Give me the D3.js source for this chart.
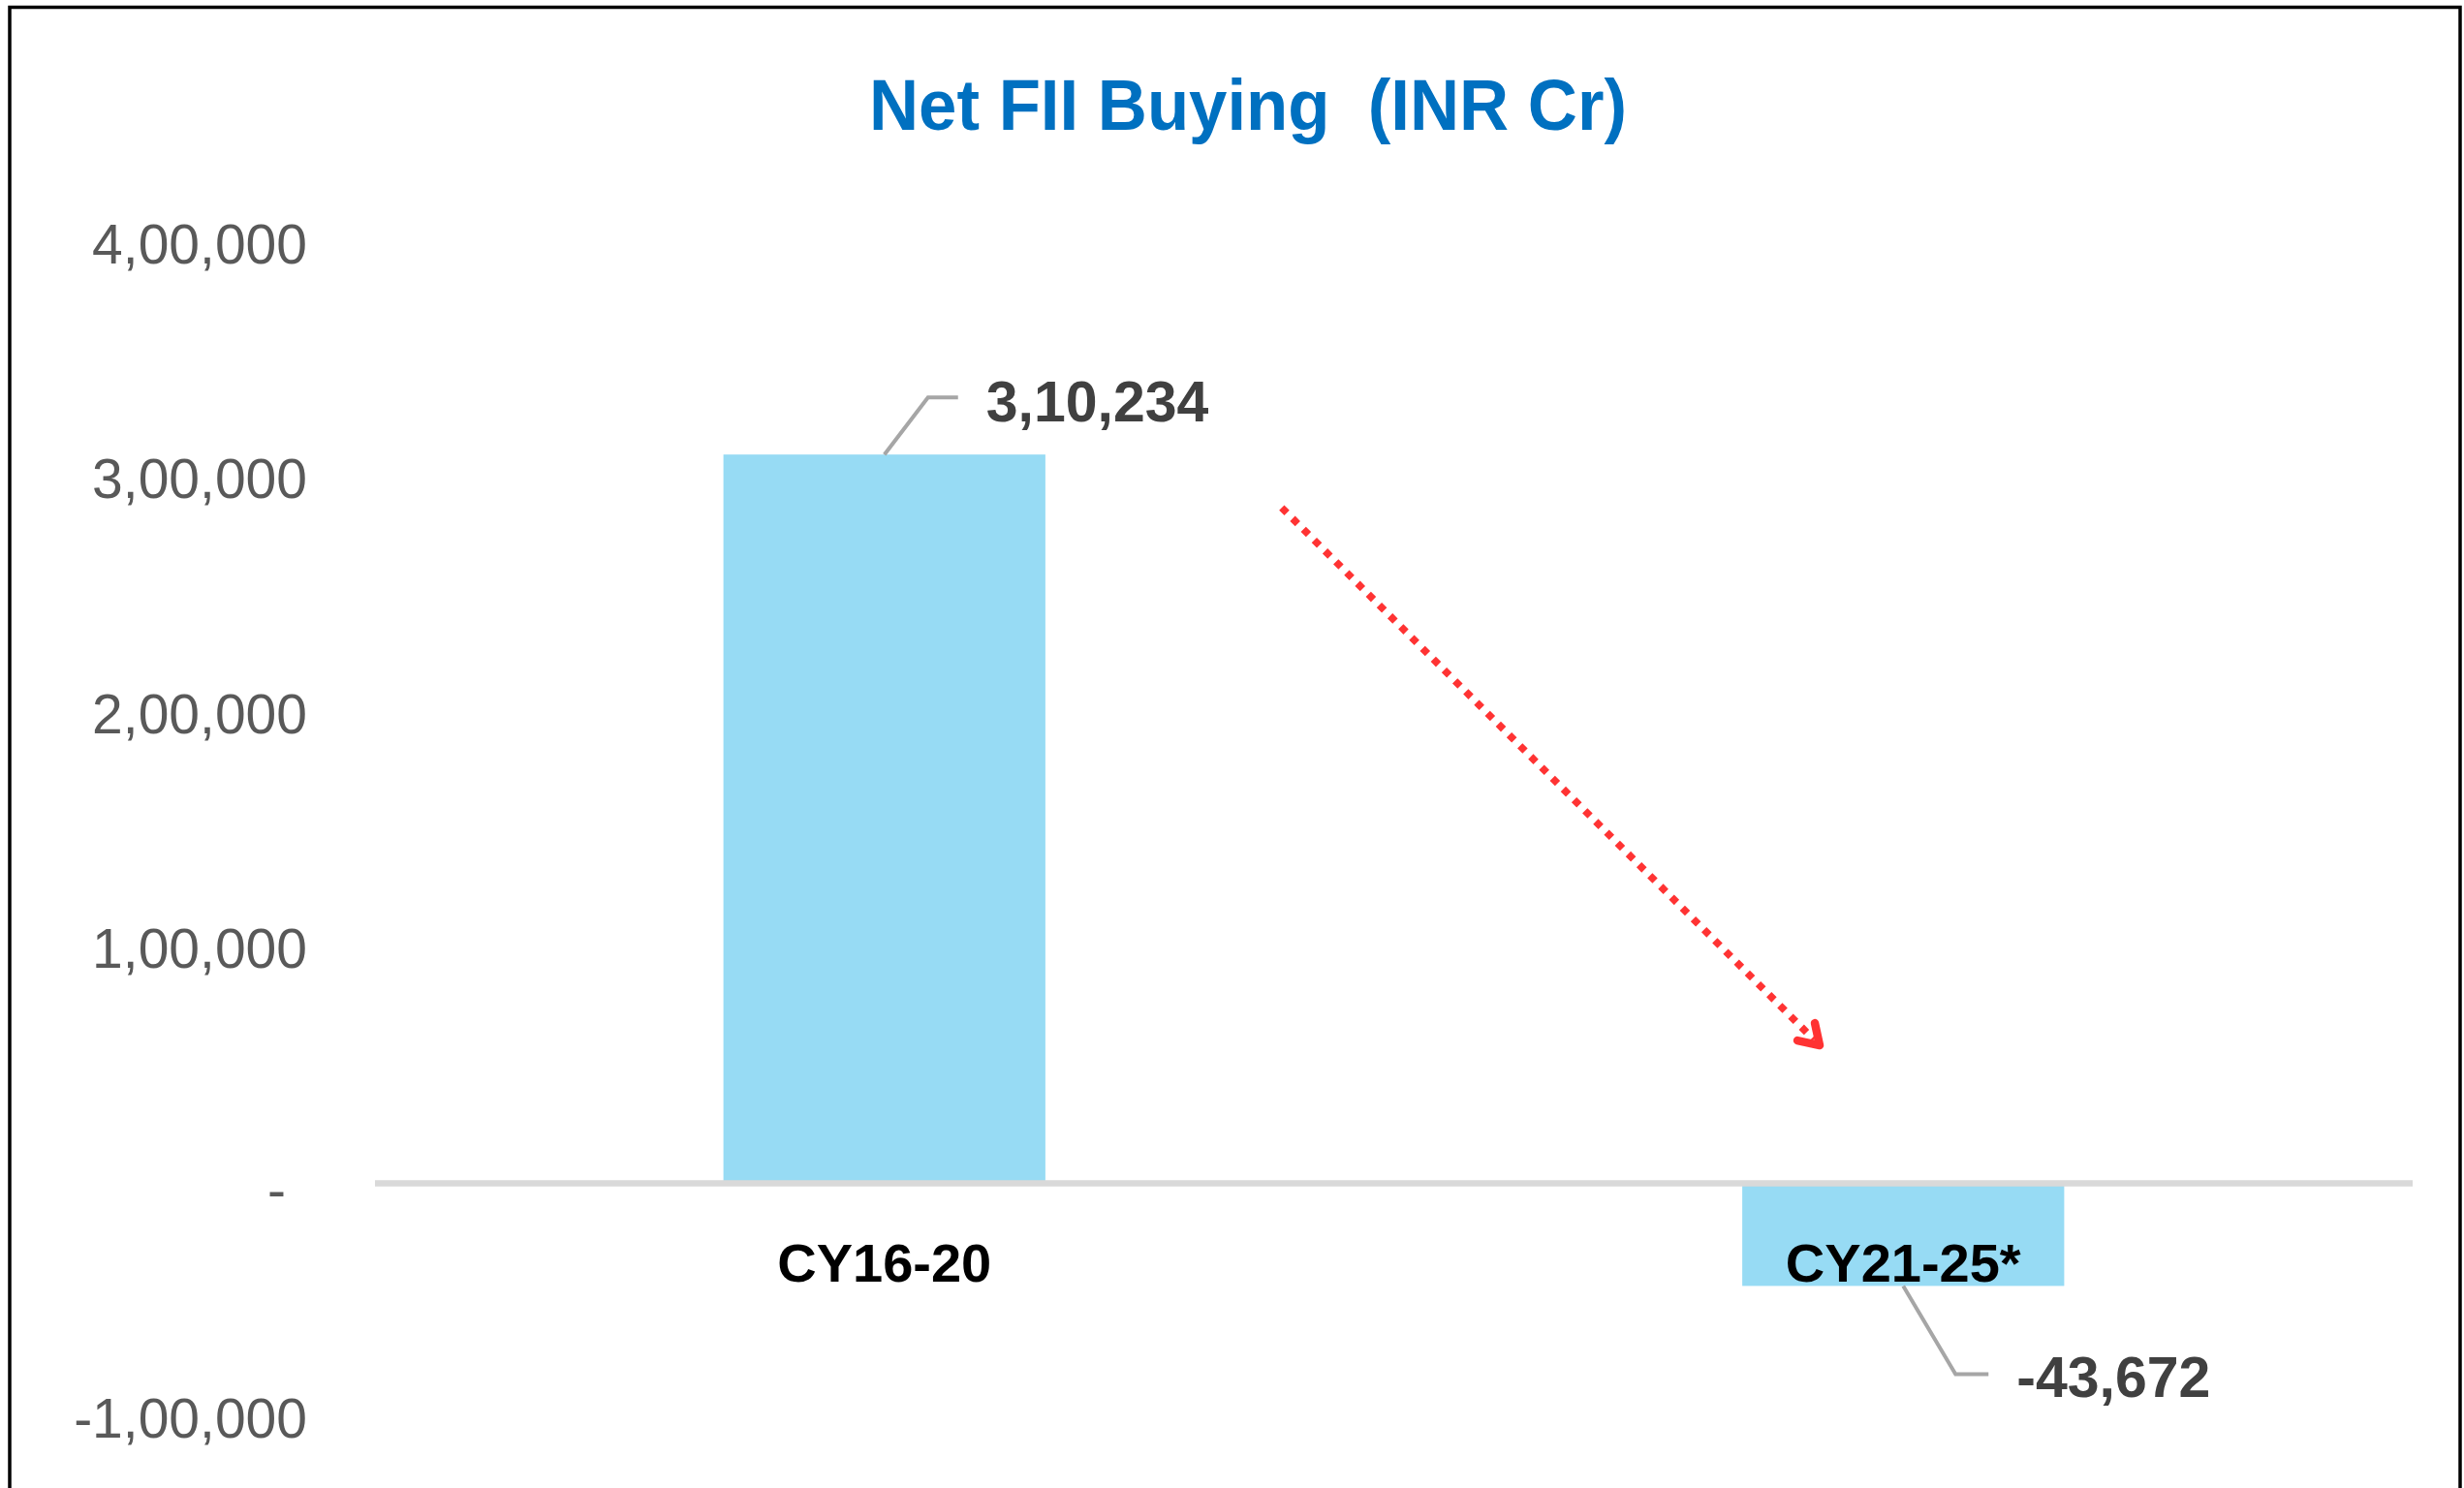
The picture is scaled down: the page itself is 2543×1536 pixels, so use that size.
<!DOCTYPE html>
<html>
<head>
<meta charset="utf-8">
<script src="https://cdn.jsdelivr.net/npm/d3@7"></script>
<style>
  body { margin: 0; background: #fff; }
  text { font-family: "Liberation Sans", Arial, sans-serif; }
</style>
</head>
<body>
<div id="chart"></div>
<script>
// data
var categories = ["CY16-20", "CY21-25*"];
var values = [310234, -43672];
var tickValues = [-100000, 0, 100000, 200000, 300000, 400000];
var tickLabels = ["-1,00,000", "-", "1,00,000", "2,00,000", "3,00,000", "4,00,000"];
var title = "Net FII Buying  (INR Cr)";

// indian digit grouping, 3,10,234
function inr(v) {
  var neg = v < 0;
  var s = Math.abs(Math.round(v)).toString();
  var last3 = s.slice(-3), rest = s.slice(0, -3);
  if (rest) s = rest.replace(/\B(?=(\d{2})+(?!\d))/g, ",") + "," + last3;
  return (neg ? "-" : "") + s;
}

var W = 2543, H = 1536;
var plot = { left: 387, right: 2490, top: 251.5, bottom: 1464 };

var svg = d3.select("#chart").append("svg")
  .attr("width", W)
  .attr("height", H);

svg.append("rect").attr("width", W).attr("height", H).attr("fill", "#fff");

// outer frame
svg.append("rect")
  .attr("x", 10).attr("y", 7.5)
  .attr("width", 2529).attr("height", 1580)
  .attr("fill", "none")
  .attr("stroke", "#000")
  .attr("stroke-width", 3.5);

svg.append("text")
  .attr("x", 1288).attr("y", 134)
  .attr("text-anchor", "middle")
  .attr("font-size", 74)
  .attr("font-weight", "bold")
  .attr("fill", "#0070c0")
  .attr("textLength", 782)
  .attr("lengthAdjust", "spacingAndGlyphs")
  .style("white-space", "pre")
  .text(title);

var x = d3.scaleBand()
  .domain(categories)
  .range([plot.left, plot.right])
  .paddingInner(0.684)
  .paddingOuter(0.342);

var y = d3.scaleLinear()
  .domain([-100000, 400000])
  .range([plot.bottom, plot.top]);

// y axis
var yAxis = svg.append("g")
  .attr("transform", "translate(317,0)")
  .call(d3.axisLeft(y)
    .tickValues(tickValues)
    .tickSize(0)
    .tickPadding(0)
    .tickFormat((d, i) => tickLabels[i]));
yAxis.select(".domain").remove();
yAxis.selectAll("text")
  .attr("font-size", 57)
  .attr("font-family", "'Liberation Sans', Arial, sans-serif")
  .attr("fill", "#595959")
  .attr("dy", d => d === 0 ? "0.45em" : "0.35em")
  .attr("dx", d => d === 0 ? -22 : 0);

// bars
svg.append("g")
  .selectAll("rect")
  .data(values)
  .enter().append("rect")
  .attr("x", (d, i) => x(categories[i]))
  .attr("width", x.bandwidth())
  .attr("y", d => y(Math.max(0, d)))
  .attr("height", d => Math.abs(y(d) - y(0)))
  .attr("fill", "#97dbf4");

// zero line
svg.append("line")
  .attr("x1", plot.left).attr("x2", plot.right)
  .attr("y1", y(0)).attr("y2", y(0))
  .attr("stroke", "#d9d9d9")
  .attr("stroke-width", 6.5);

// category labels
svg.append("g")
  .selectAll("text")
  .data(categories)
  .enter().append("text")
  .attr("x", d => x(d) + x.bandwidth() / 2)
  .attr("y", y(0) + 101.5)
  .attr("text-anchor", "middle")
  .attr("font-size", 56)
  .attr("font-weight", "bold")
  .attr("fill", "#000")
  .text(d => d);

// data labels with leader lines
var lab = svg.append("g")
  .selectAll("g")
  .data(values)
  .enter().append("g");

lab.append("path")
  .attr("fill", "none")
  .attr("stroke", "#a6a6a6")
  .attr("stroke-width", 4)
  .attr("d", function (d, i) {
    var cx = x(categories[i]) + x.bandwidth() / 2;
    if (d >= 0) {
      var y0 = y(d);
      return "M" + cx + "," + y0 + "L" + (cx + 45) + "," + (y0 - 59) + "H" + (cx + 76);
    }
    var y1 = y(d);
    return "M" + cx + "," + y1 + "L" + (cx + 54) + "," + (y1 + 91) + "H" + (cx + 88);
  });

lab.append("text")
  .attr("x", (d, i) => x(categories[i]) + x.bandwidth() / 2 + (d >= 0 ? 105 : 117))
  .attr("y", d => d >= 0 ? y(d) - 34 : y(d) + 115)
  .attr("font-size", 59)
  .attr("font-weight", "bold")
  .attr("fill", "#404040")
  .text(d => inr(d));

// red dotted arrow between the bars
var arrowFrom = { fx: 0.445, v: 287600 };
var arrowTo = { fx: 0.709, v: 58750 };
var px = f => plot.left + f * (plot.right - plot.left);
var ax1 = px(arrowFrom.fx), ay1 = y(arrowFrom.v);
var ax2 = px(arrowTo.fx), ay2 = y(arrowTo.v);

svg.append("line")
  .attr("x1", ax1).attr("y1", ay1)
  .attr("x2", ax2 - 6).attr("y2", ay2 - 6)
  .attr("stroke", "#ff3333")
  .attr("stroke-width", 7.5)
  .attr("stroke-dasharray", "7.5 8.3");

svg.append("path")
  .attr("fill", "none")
  .attr("stroke", "#ff3333")
  .attr("stroke-width", 8.5)
  .attr("stroke-linecap", "round")
  .attr("stroke-linejoin", "round")
  .attr("d", "M" + (ax2 - 5) + "," + (ay2 - 23) + "L" + ax2 + "," + ay2 + "L" + (ax2 - 23) + "," + (ay2 - 5));
</script>
</body>
</html>
